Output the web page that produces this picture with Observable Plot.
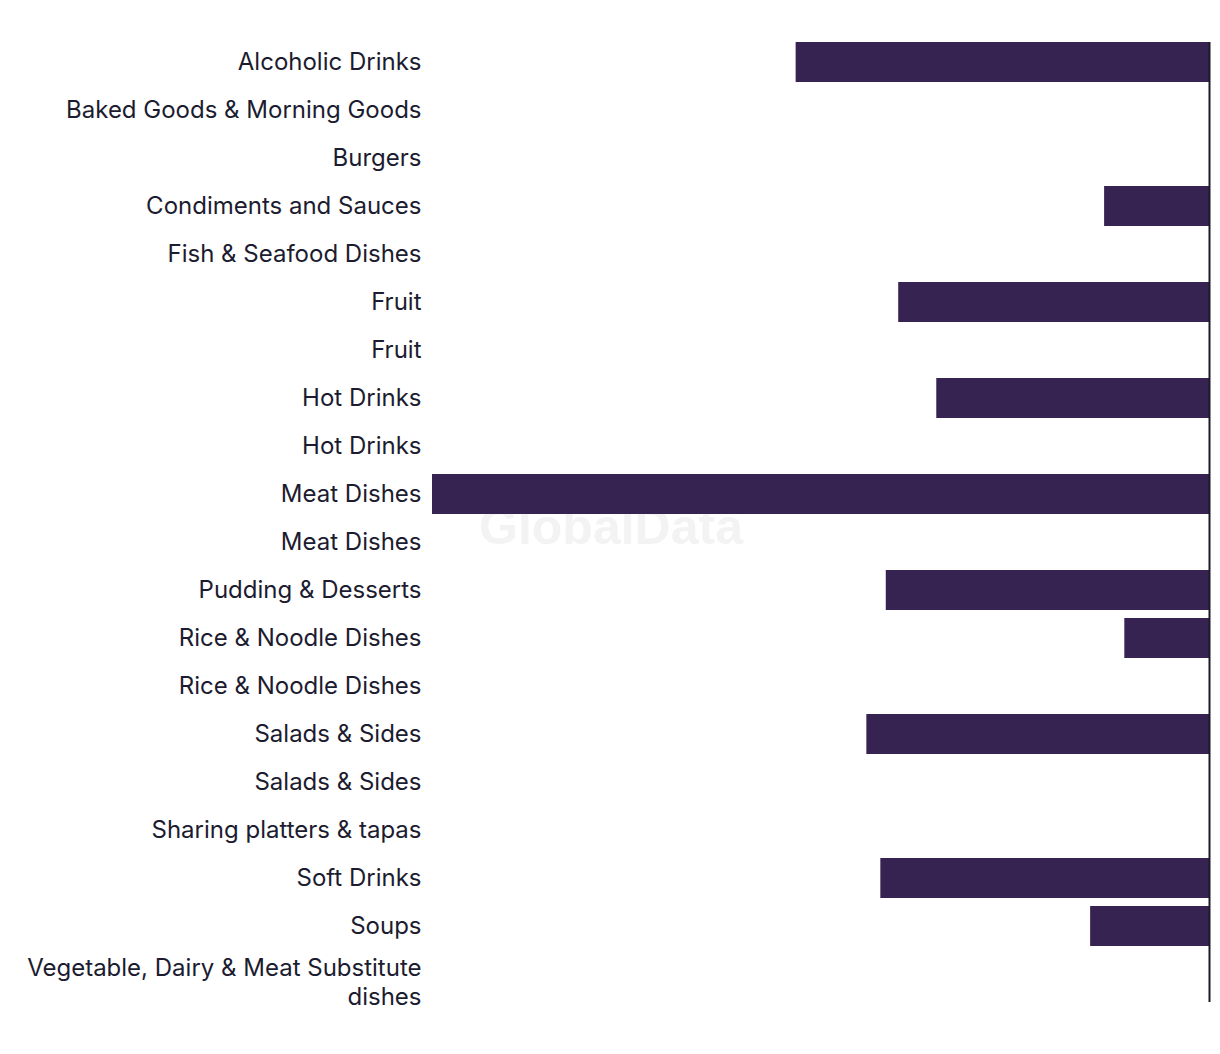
<!DOCTYPE html>
<html>
<head>
<meta charset="utf-8">
<script src="https://cdn.jsdelivr.net/npm/d3@7"></script>
<script src="https://cdn.jsdelivr.net/npm/@observablehq/plot@0.6"></script>
<style>
  html, body { margin: 0; padding: 0; background: #fff; }
  #chart { width: 1220px; }
</style>
</head>
<body>
<div id="chart"></div>
<script>
const categories = [
  "Alcoholic Drinks",
  "Baked Goods & Morning Goods",
  "Burgers",
  "Condiments and Sauces",
  "Fish & Seafood Dishes",
  "Fruit",
  "Fruit",
  "Hot Drinks",
  "Hot Drinks",
  "Meat Dishes",
  "Meat Dishes",
  "Pudding & Desserts",
  "Rice & Noodle Dishes",
  "Rice & Noodle Dishes",
  "Salads & Sides",
  "Salads & Sides",
  "Sharing platters & tapas",
  "Soft Drinks",
  "Soups",
  "Vegetable, Dairy & Meat Substitute\ndishes"
];
const values = [
  -53.2, 0, 0, -13.5, 0, -40.0, 0, -35.1, 0, -100.0,
  0, -41.6, -10.9, 0, -44.1, 0, 0, -42.3, -15.3, 0
];

const data = categories.map((c, i) => ({ idx: i, category: c, value: values[i] }));
const idxs = d3.range(categories.length);
const lastIdx = categories.length - 1;

const plot = Plot.plot({
  width: 1220,
  height: 1054,
  marginLeft: 432,
  marginRight: 11,
  marginTop: 34,
  marginBottom: 52,
  style: {
    fontFamily: "Inter, Roboto, sans-serif",
    fontSize: "24px",
    color: "#1c1c30",
    background: "#fff"
  },
  x: { domain: [-100, 0], axis: null },
  y: {
    domain: idxs,
    padding: 0.1667,
    round: false,
    axis: null
  },
  marks: [
    Plot.text(["GlobalData"], {
      frameAnchor: "middle",
      dx: -210,
      dy: 9,
      fill: "#f3f3f3",
      fontSize: 50,
      fontWeight: "bold",
      fontFamily: "'Liberation Sans', Arial, sans-serif"
    }),
    Plot.barX(data, { x: "value", y: "idx", fill: "#372351" }),
    Plot.ruleX([0], { stroke: "#1a1a2a", strokeWidth: 2, insetTop: 8 }),
    Plot.axisY(idxs.filter((i) => i !== lastIdx), {
      tickSize: 0,
      tickPadding: 11,
      tickFormat: (i) => categories[i],
      label: null,
      fontSize: 24,
      fill: "#1c1c30"
    }),
    Plot.axisY([lastIdx], {
      tickSize: 0,
      tickPadding: 11,
      dy: 7,
      lineHeight: 1.17,
      tickFormat: (i) => categories[i],
      label: null,
      fontSize: 24,
      fill: "#1c1c30"
    })
  ]
});

document.getElementById("chart").appendChild(plot);
</script>
</body>
</html>
